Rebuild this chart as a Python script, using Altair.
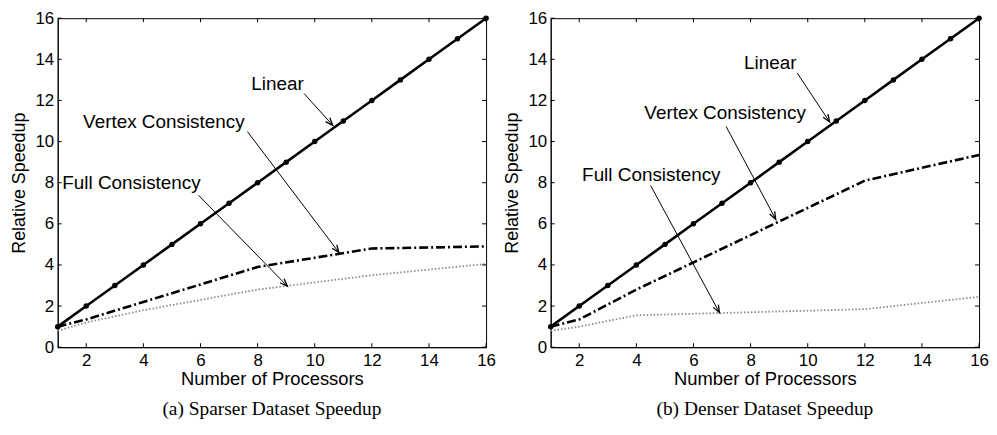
import math
import altair as alt
import pandas as pd

# ---------------- data ----------------
procs_linear = list(range(1, 17))
linear_speedup = [float(p) for p in procs_linear]

procs = [1, 2, 4, 8, 12, 16]
sparse_vertex = [1.0, 1.35, 2.2, 3.9, 4.8, 4.9]
sparse_full = [0.8, 1.2, 1.8, 2.8, 3.5, 4.05]
dense_vertex = [1.0, 1.35, 2.8, 5.45, 8.1, 9.35]
dense_full = [0.8, 1.0, 1.55, 1.7, 1.85, 2.45]

y_ticks = list(range(0, 17, 2))
x_ticks = list(range(2, 17, 2))

labels = ["Linear", "Vertex Consistency", "Full Consistency"]
sparse_text_x = [7.78, 1.89, 1.16]
sparse_text_y = [12.81, 10.96, 8.0]
sparse_arrow_x1 = [9.63, 7.64, 5.93]
sparse_arrow_y1 = [12.33, 10.49, 7.39]
sparse_arrow_x2 = [10.63, 10.85, 9.04]
sparse_arrow_y2 = [10.79, 4.6, 2.97]

dense_text_x = [7.77, 4.28, 2.10]
dense_text_y = [13.8, 11.39, 8.36]
dense_arrow_x1 = [9.63, 7.14, 4.5]
dense_arrow_y1 = [13.34, 10.74, 7.86]
dense_arrow_x2 = [10.77, 8.88, 6.91]
dense_arrow_y2 = [10.95, 6.22, 1.68]

captions = ["(a) Sparser Dataset Speedup", "(b) Denser Dataset Speedup"]

# ---------------- style ----------------
W, H = 431, 331
SANS = "Liberation Sans, Arial, Helvetica, sans-serif"
SERIF = "Liberation Serif, Times New Roman, serif"
XMIN, XMAX, YMIN, YMAX = 1, 16, 0, 16

x_scale = alt.Scale(domain=[XMIN, XMAX], nice=False, zero=False)
y_scale = alt.Scale(domain=[YMIN, YMAX], nice=False, zero=False)
x_axis = alt.Axis(values=x_ticks, title="Number of Processors", grid=False, ticks=False,
                  labelFlush=False, labelOverlap=False, labelPadding=5, titlePadding=2,
                  labelFont=SANS, titleFont=SANS, labelFontSize=17, titleFontSize=18.5,
                  titleFontWeight="normal", labelColor="black", titleColor="black",
                  domainColor="black", domainWidth=1)
y_axis = alt.Axis(values=y_ticks, title="Relative Speedup", grid=False, ticks=False,
                  labelFlush=False, labelOverlap=False, labelPadding=4, titlePadding=6,
                  labelFont=SANS, titleFont=SANS, labelFontSize=17, titleFontSize=18,
                  titleFontWeight="normal", labelColor="black", titleColor="black",
                  domainColor="black", domainWidth=1)


def X(field="x"):
    return alt.X(f"{field}:Q", scale=x_scale, axis=x_axis)


def Y(field="y"):
    return alt.Y(f"{field}:Q", scale=y_scale, axis=y_axis)


def panel(vertex, full, tx, ty, ax1, ay1, ax2, ay2, caption):
    lin_df = pd.DataFrame({"x": procs_linear, "y": linear_speedup})
    v_df = pd.DataFrame({"x": procs, "y": vertex})
    f_df = pd.DataFrame({"x": procs, "y": full})

    px_x = W / (XMAX - XMIN)
    px_y = H / (YMAX - YMIN)
    angles = []
    for a, b, c, d in zip(ax1, ay1, ax2, ay2):
        dx = (c - a) * px_x
        dy = -(d - b) * px_y
        angles.append(math.degrees(math.atan2(dx, -dy)) % 360)
    arr_df = pd.DataFrame({"x": ax1, "y": ay1, "x2": ax2, "y2": ay2, "ang": angles})
    txt_df = pd.DataFrame({"x": tx, "y": ty, "label": labels})
    yt_df = pd.DataFrame({"y": y_ticks})
    xt_df = pd.DataFrame({"x": x_ticks})

    full_line = alt.Chart(f_df).mark_line(color="#8a8a8a", strokeWidth=1.8,
                                          strokeDash=[1.5, 2]).encode(x=X(), y=Y())
    vertex_line = alt.Chart(v_df).mark_line(color="black", strokeWidth=2.6,
                                            strokeDash=[9, 3, 2, 3]).encode(x=X(), y=Y())
    lin_line = alt.Chart(lin_df).mark_line(color="black", strokeWidth=2.6).encode(x=X(), y=Y())
    lin_pts = alt.Chart(lin_df).mark_circle(color="black", size=30, opacity=1).encode(x=X(), y=Y())

    tick_l = alt.Chart(yt_df).mark_rule(color="black", strokeWidth=1).encode(
        x=alt.value(0), x2=alt.value(4), y=Y())
    tick_r = alt.Chart(yt_df).mark_rule(color="black", strokeWidth=1).encode(
        x=alt.value(W - 4), x2=alt.value(W), y=Y())
    tick_b = alt.Chart(xt_df).mark_rule(color="black", strokeWidth=1).encode(
        y=alt.value(H - 4), y2=alt.value(H), x=X())
    tick_t = alt.Chart(xt_df).mark_rule(color="black", strokeWidth=1).encode(
        y=alt.value(0), y2=alt.value(4), x=X())

    arrows = alt.Chart(arr_df).mark_rule(color="black", strokeWidth=1).encode(
        x=X(), y=Y(), x2="x2:Q", y2="y2:Q")
    heads = alt.Chart(arr_df).mark_point(
        shape="M -0.38 1 L 0 0 L 0.38 1", size=230, filled=False,
        stroke="black", strokeWidth=1.3, opacity=1).encode(
        x=X("x2"), y=Y("y2"), angle=alt.Angle("ang:Q", scale=None))
    texts = alt.Chart(txt_df).mark_text(align="left", baseline="middle", font=SANS,
                                        fontSize=19, color="black").encode(
        x=X(), y=Y(), text="label:N")

    return alt.layer(full_line, vertex_line, lin_line, lin_pts, tick_l, tick_r, tick_b, tick_t,
                     arrows, heads, texts).properties(
        width=W, height=H,
        title=alt.TitleParams(caption, orient="bottom", anchor="middle", font=SERIF,
                              fontSize=19.5, fontWeight="normal", color="black", offset=12))


left = panel(sparse_vertex, sparse_full, sparse_text_x, sparse_text_y,
             sparse_arrow_x1, sparse_arrow_y1, sparse_arrow_x2, sparse_arrow_y2, captions[0])
right = panel(dense_vertex, dense_full, dense_text_x, dense_text_y,
              dense_arrow_x1, dense_arrow_y1, dense_arrow_x2, dense_arrow_y2, captions[1])

chart = alt.hconcat(left, right, spacing=65, bounds="flush").properties(
    padding={"left": 2, "top": -1, "right": 0, "bottom": 0},
    background="white"
).configure_view(stroke="black", strokeWidth=1)

chart.save("out.html", embed_options={"renderer": "svg", "actions": False})
